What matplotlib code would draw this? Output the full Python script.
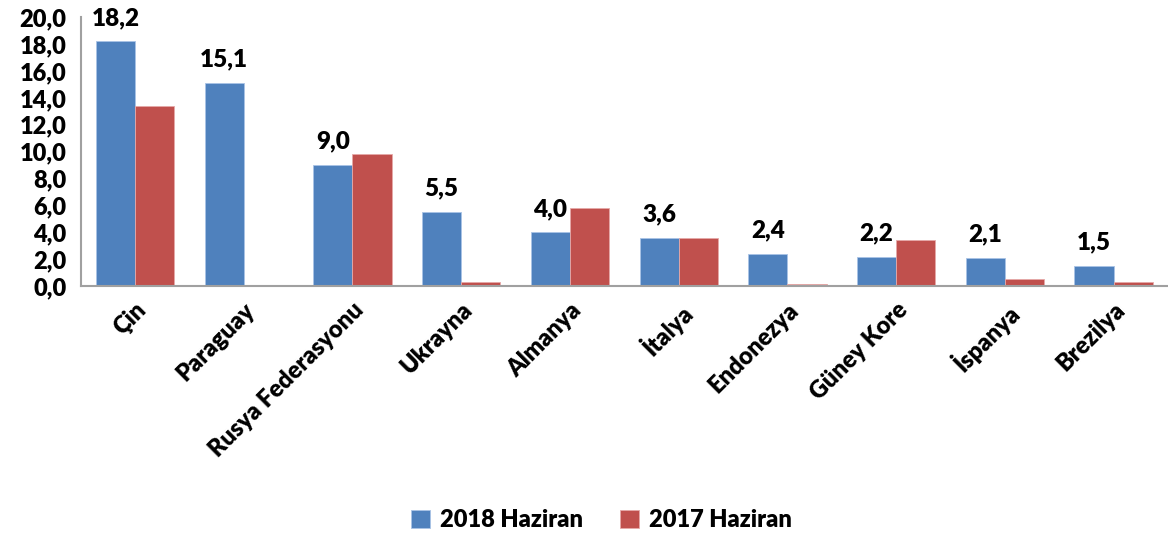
import numpy as np
import matplotlib.pyplot as plt

plt.rcParams['font.family'] = ['Lato', 'DejaVu Sans']
plt.rcParams['font.weight'] = 'heavy'

countries = ['Çin', 'Paraguay', 'Rusya Federasyonu', 'Ukrayna', 'Almanya',
             'İtalya', 'Endonezya', 'Güney Kore', 'İspanya', 'Brezilya']
haziran_2018 = [18.2, 15.1, 9.0, 5.5, 4.0, 3.6, 2.4, 2.2, 2.1, 1.5]
haziran_2017 = [13.4, 0.0, 9.8, 0.3, 5.8, 3.6, 0.15, 3.4, 0.5, 0.3]

blue = '#4F81BD'
red = '#C0504D'

fig = plt.figure(figsize=(11.68, 5.35), dpi=100)
ax = fig.add_axes([0.069, 0.465, 0.931, 0.503])

x = np.arange(len(countries))
w = 0.36
b1 = ax.bar(x - w / 2, haziran_2018, w, color=blue, edgecolor='#a9c3e6',
            linewidth=0.6, label='2018 Haziran')
b2 = ax.bar(x + w / 2, haziran_2017, w, color=red, edgecolor='#e6a9a8',
            linewidth=0.6, label='2017 Haziran')

# data labels only on the 2018 bars
for xi, v in zip(x, haziran_2018):
    ax.annotate(f'{v:.1f}'.replace('.', ','), (xi - w / 2, v),
                xytext=(0, 9), textcoords='offset points',
                ha='center', va='bottom', fontsize=17.5, fontweight='heavy')

ax.set_xlim(-0.5, len(countries) - 0.5)
ax.set_ylim(0, 20)
ax.set_yticks(np.arange(0, 21, 2))
ax.set_yticklabels([f'{t:.1f}'.replace('.', ',') for t in np.arange(0, 21, 2)],
                   fontsize=17, fontweight='heavy')
ax.set_xticks(x)
ax.set_xticklabels(countries, rotation=45, ha='right', rotation_mode='anchor',
                   fontsize=17, fontweight='heavy')
ax.tick_params(axis='y', length=0, pad=10)
ax.tick_params(axis='x', length=0, pad=9)

for s in ['top', 'right']:
    ax.spines[s].set_visible(False)
for s in ['left', 'bottom']:
    ax.spines[s].set_color('#a0a0a0')
    ax.spines[s].set_linewidth(1.5)

fig.legend(handles=[b1, b2], loc='lower center', bbox_to_anchor=(0.515, -0.033),
           ncol=2, frameon=False, handlelength=0.8,
           handleheight=0.8, columnspacing=1.6, handletextpad=0.4,
           prop={'weight': 'heavy', 'size': 17})

fig.savefig('out.png', dpi=100)
